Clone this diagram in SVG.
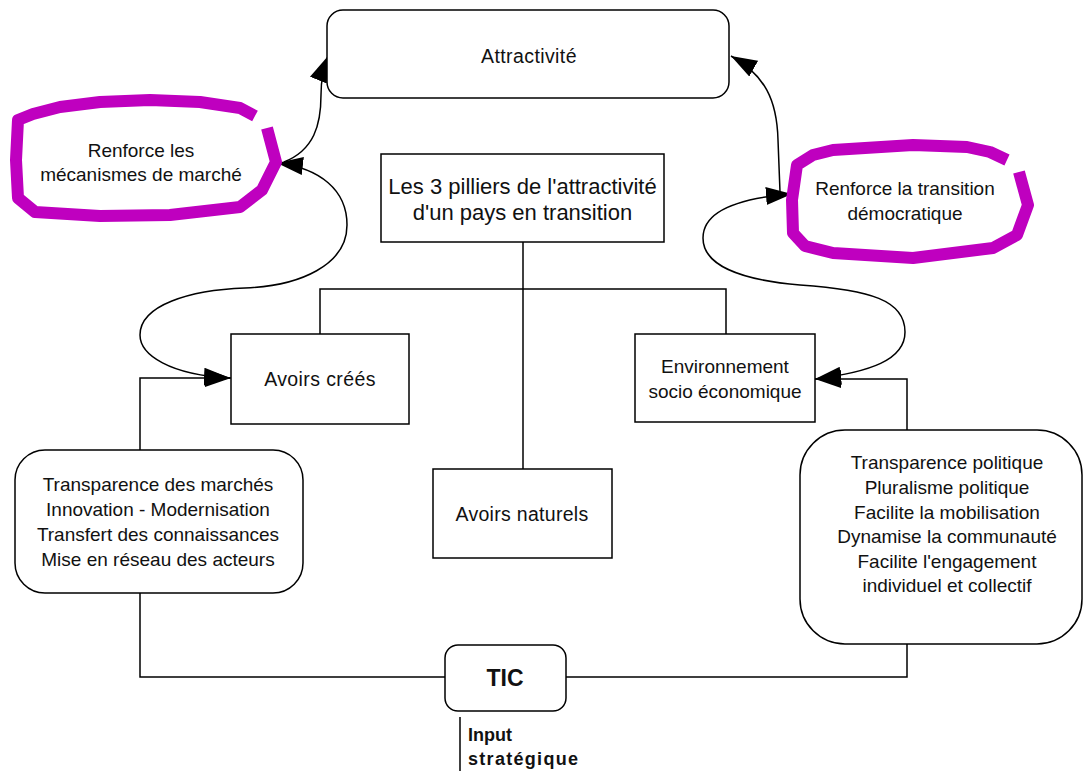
<svg xmlns="http://www.w3.org/2000/svg" width="1083" height="771" viewBox="0 0 1083 771">
<style>
.box{fill:#fff;stroke:#000;stroke-width:1.5}
.ln{fill:none;stroke:#000;stroke-width:1.5}
.hl{fill:none;stroke:#BF00BF;stroke-width:12;stroke-linejoin:round;stroke-linecap:butt}
text{font-family:"Liberation Sans",Arial,sans-serif;font-size:19px;fill:#111;text-anchor:middle}
.b{font-weight:bold}
</style>
<defs>
<marker id="arr" viewBox="0 0 26 18" refX="26" refY="9" markerWidth="26" markerHeight="18" markerUnits="userSpaceOnUse" orient="auto-start-reverse">
<path d="M0,0 L26,9 L0,18 z" fill="#000"/>
</marker>
</defs>
<rect width="1083" height="771" fill="#fff"/>
<g id="connectors">
<path class="ln" d="M523 242 V469"/>
<path class="ln" d="M320 334 V289 H726 V334"/>
<path class="ln" d="M140 450 V378 H231" marker-end="url(#arr)"/>
<path class="ln" d="M907 430 V379 H815" marker-end="url(#arr)"/>
<path class="ln" d="M140 593 V677 H445"/>
<path class="ln" d="M566 677 H907 V644"/>
<path class="ln" d="M460 717 V771"/>
<path class="ln" d="M284 162 C314 150 321 125 321 95 C321 80 324 66 328 56" marker-end="url(#arr)"/>
<path class="ln" d="M780 192 L778 140 C777 100 765 75 731 56" marker-end="url(#arr)"/>
<path class="ln" d="M230 378 C170 375 140 355 140 335 C140 305 190 290 245 288 C300 286 347 265 347 225 C347 190 320 168 277 163" marker-start="url(#arr)" marker-end="url(#arr)"/>
<path class="ln" d="M815 379 C870 372 905 360 905 332 C905 300 870 290 800 285 C740 280 703 265 703 238 C703 210 740 198 792 194" marker-start="url(#arr)" marker-end="url(#arr)"/>
</g>
<g id="attractivite">
<rect class="box" x="327" y="10" width="402" height="88" rx="16"/>
<text x="529" y="63" style="font-size:19.5px;letter-spacing:0.4px">Attractivité</text>
</g>
<g id="pilliers">
<rect class="box" x="381" y="154" width="283" height="88"/>
<text x="522.5" y="194" style="font-size:22px">Les 3 pilliers de l'attractivité</text>
<text x="522.5" y="220" style="font-size:22px">d'un pays en transition</text>
</g>
<g id="renforce-marche">
<path class="hl" d="M255 116 L240 108 L200 102 L150 100 L100 102 L60 107 L33 114 L18 120 L16 160 L18 198 L35 212 L100 216 L170 215 L240 207 L262 190 L276 162 L267 128"/>
<text x="141" y="157">Renforce les</text>
<text x="141" y="181">mécanismes de marché</text>
</g>
<g id="renforce-transition">
<path class="hl" d="M1007 160 L990 152 L967 147 L913 145 L833 150 L813 155 L797 165 L792 200 L793 233 L805 246 L833 253 L913 258 L993 248 L1017 235 L1028 205 L1019 172"/>
<text x="905" y="195">Renforce la transition</text>
<text x="905" y="220">démocratique</text>
</g>
<g id="avoirs-crees">
<rect class="box" x="231" y="334" width="178" height="90"/>
<text x="320" y="386" style="font-size:19.5px;letter-spacing:0.4px">Avoirs créés</text>
</g>
<g id="environnement">
<rect class="box" x="635" y="334" width="180" height="88"/>
<text x="725" y="373">Environnement</text>
<text x="725" y="398">socio économique</text>
</g>
<g id="avoirs-naturels">
<rect class="box" x="433" y="469" width="179" height="89"/>
<text x="522" y="521" style="font-size:19.5px;letter-spacing:0.3px">Avoirs naturels</text>
</g>
<g id="marches">
<rect class="box" x="15" y="450" width="288" height="143" rx="30"/>
<text x="158" y="491">Transparence des marchés</text>
<text x="158" y="516">Innovation - Modernisation</text>
<text x="158" y="541">Transfert des connaissances</text>
<text x="158" y="566">Mise en réseau des acteurs</text>
</g>
<g id="politique">
<rect class="box" x="800" y="430" width="282" height="214" rx="45"/>
<text x="947" y="469">Transparence politique</text>
<text x="947" y="494">Pluralisme politique</text>
<text x="947" y="519">Facilite la mobilisation</text>
<text x="947" y="543">Dynamise la communauté</text>
<text x="947" y="568">Facilite l'engagement</text>
<text x="947" y="592">individuel et collectif</text>
</g>
<g id="tic">
<rect class="box" x="445" y="645" width="121" height="66" rx="13"/>
<text class="b" x="505" y="686" style="font-size:23px">TIC</text>
</g>
<g id="input">
<text class="b" x="468" y="741" style="font-size:18px;text-anchor:start">Input</text>
<text class="b" x="468" y="765" style="font-size:18px;text-anchor:start;letter-spacing:1.3px">stratégique</text>
</g>
</svg>
